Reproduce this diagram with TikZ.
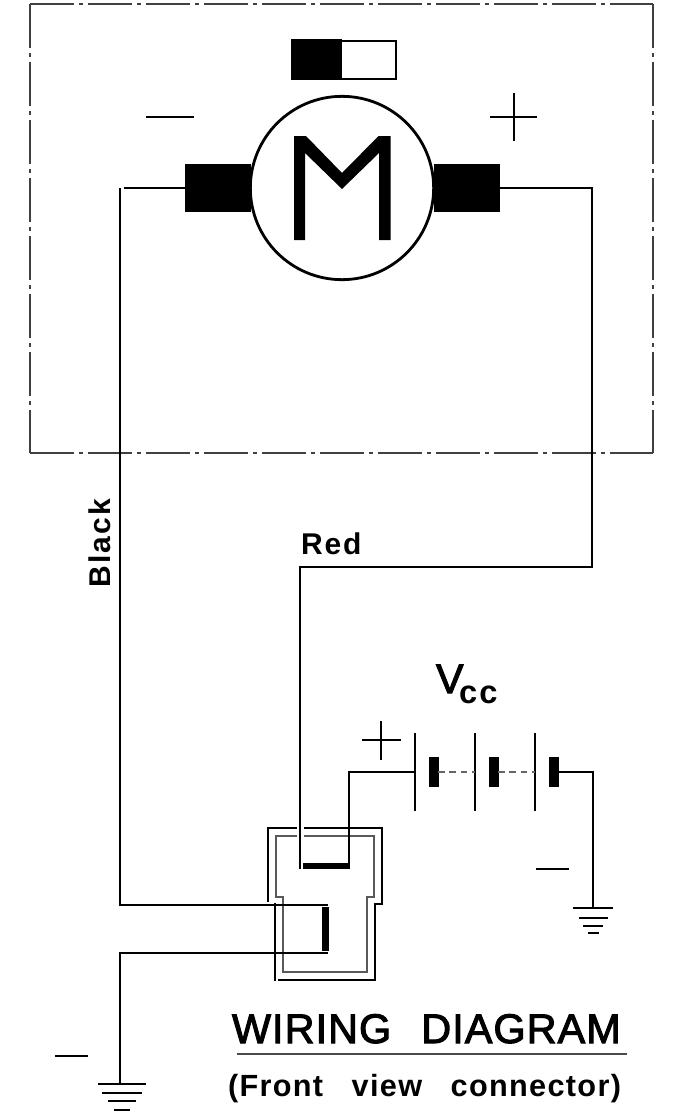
\documentclass[tikz,border=0pt]{standalone}
\usepackage{fontspec}
\setmainfont{Liberation Sans}
\newfontfamily\titlefont[LetterSpace=2.6,WordSpace=2.4,FakeBold=2.5]{Liberation Sans}
\newfontfamily\subfont[LetterSpace=4.3,WordSpace=2.9]{Liberation Sans Bold}
\newfontfamily\labelfont[LetterSpace=6.5]{Liberation Sans Bold}
\tikzset{
  wire/.style={line width=2.2pt,black},
  outer/.style={line width=2.2pt,black,line join=miter},
  inner/.style={line width=1.1pt,black!65},
  solidbox/.style={fill=black,draw=none},
  sign/.style={line width=1.7pt,black},
  frameline/.style={line width=0.9pt,black!75,dash pattern=on 33pt off 4pt on 3pt off 3.5pt},
  txt/.style={inner sep=0pt,outer sep=0pt,anchor=base west,text=black},
}
\begin{document}
\begin{tikzpicture}[x=0.75pt,y=-0.75pt]
\useasboundingbox (0,0) rectangle (674,1113);
% frame
\coordinate (f1) at (30,4); \coordinate (f2) at (653,4);
\coordinate (f3) at (653,453); \coordinate (f4) at (30,453);
\draw[frameline] (f1) -- (f2);
\draw[frameline] (f1) -- (f4);
\draw[frameline] (f2) -- (f3);
\draw[frameline] (f4) -- (f3);
% switch
\node[draw=black,line width=1.6pt,fill=white,minimum width=78pt,minimum height=29pt,inner sep=0pt] (sw) at (344,60) {};
\fill[black] (291,39.5) rectangle (342,80.5);
% motor
\node[draw=black,line width=2.1pt,circle,minimum size=137.5pt,inner sep=0pt,fill=white] (motor) at (342,188) {};
\fill[solidbox] (185,164) rectangle (251,212);
\fill[solidbox] (434,164) rectangle (499.5,212);
\coordinate (lt) at (185,188);
\coordinate (rt) at (497,188);
\fill[black] (294,136) -- (306,136) -- (342,173) -- (378.5,136) -- (390.5,136) -- (390.5,240) -- (379,240) -- (379,153) -- (342,189) -- (305,153) -- (305,240) -- (294,240) -- cycle;
% signs
\coordinate (ma) at (146,117); \coordinate (mb) at (194,117);
\draw[sign] (ma) -- (mb);
\coordinate (pa) at (490,117); \coordinate (pb) at (537,117);
\coordinate (pc) at (514,93); \coordinate (pd) at (514,141);
\draw[sign] (pa) -- (pb); \draw[sign] (pc) -- (pd);
% connector body
\coordinate (o1) at (268,902); \coordinate (o2) at (268,828); \coordinate (o3) at (382,828);
\coordinate (o4) at (382,904); \coordinate (o5) at (375,904); \coordinate (o6) at (375,980); \coordinate (o7) at (278,980);
\draw[outer] (o1) -- (o2) -- (o3) -- (o4) -- (o5) -- (o6) -- (o7);
\coordinate (t1) at (275,903); \coordinate (t2) at (275,981);
\draw[line width=0.9pt,black] (t1) -- (t2);
\coordinate (i1) at (276,897); \coordinate (i2) at (276,836); \coordinate (i3) at (374,836);
\coordinate (i4) at (374,897); \coordinate (i5) at (367,897); \coordinate (i6) at (367,972);
\coordinate (i7) at (283,972); \coordinate (i8) at (283,897);
\draw[inner] (i1) -- (i2) -- (i3) -- (i4) -- (i5) -- (i6) -- (i7) -- (i8) -- cycle;
% gap round the red wire
\fill[white] (297,825) rectangle (303.5,840);
% contacts
\fill[solidbox] (303,863) rectangle (350,869);
\fill[solidbox] (322,907) rectangle (329,951);
\coordinate (c1) at (349,866);
\coordinate (c2a) at (328,905);
\coordinate (c2b) at (328,953);
\coordinate (redend) at (300,869);
% black wire
\coordinate (bk0) at (124,188); \coordinate (bk1) at (120,188); \coordinate (bk2) at (120,905);
\draw[wire] (lt) -- (bk0);
\draw[wire] (bk1) -- (bk2) -- (c2a);
% ground wire lower
\coordinate (g1a) at (120,953); \coordinate (g1b) at (120,1084);
\draw[wire] (c2b) -- (g1a) -- (g1b);
% red wire
\coordinate (r1) at (592,188); \coordinate (r2) at (592,567); \coordinate (r3) at (300,567);
\draw[wire] (rt) -- (r1) -- (r2) -- (r3) -- (redend);
% Vcc feed
\coordinate (v1) at (349,772); \coordinate (b1) at (415,772);
\draw[wire] (c1) -- (v1) -- (b1);
% small plus
\coordinate (sa) at (362,740); \coordinate (sb) at (401,740); \coordinate (sc) at (381,721); \coordinate (sd) at (381,760);
\draw[sign] (sa) -- (sb); \draw[sign] (sc) -- (sd);
% battery
\foreach \x/\n in {415/a,475/b,535/c}{
  \coordinate (l\n t) at (\x,733); \coordinate (l\n b) at (\x,811);
  \draw[wire] (l\n t) -- (l\n b);
  \fill[solidbox] (\x+14,757) rectangle (\x+23.5,787);
}
\coordinate (d1) at (438,772); \coordinate (d2) at (475,772);
\coordinate (d3) at (498,772); \coordinate (d4) at (535,772);
\draw[line width=1.1pt,black!60,dash pattern=on 5pt off 3.5pt] (d1) -- (d2);
\draw[line width=1.1pt,black!60,dash pattern=on 5pt off 3.5pt] (d3) -- (d4);
\coordinate (e1) at (558,772); \coordinate (e2) at (593,772); \coordinate (e3) at (593,908);
\draw[wire] (e1) -- (e2) -- (e3);
% ground right
\foreach \y/\w in {908/20,918/14.5,926/10,933/5.5}{
  \coordinate (gl) at (593-\w,\y); \coordinate (gr) at (593+\w,\y);
  \draw[wire] (gl) -- (gr);
}
\coordinate (m2a) at (536,869); \coordinate (m2b) at (569,869);
\draw[sign] (m2a) -- (m2b);
% ground left
\foreach \y/\w in {1084/24,1093/20,1101/14,1110/8}{
  \coordinate (gl) at (122-\w,\y); \coordinate (gr) at (122+\w,\y);
  \draw[wire] (gl) -- (gr);
}
\coordinate (m3a) at (55,1056); \coordinate (m3b) at (88,1056);
\draw[sign] (m3a) -- (m3b);
% texts
\node[txt,font=\labelfont\fontsize{22.5}{22.5}\selectfont] (red) at (301,554) {Red};
\node[txt,rotate=90,font=\labelfont\fontsize{22.5}{22.5}\selectfont] (black) at (110,587) {Black};
\node[txt,font=\titlefont\fontsize{31}{31}\selectfont] (vv) at (436,693) {V};
\node[txt,font=\labelfont\fontsize{24.5}{24.5}\selectfont] (cc) at (459,703) {cc};
\node[txt,font=\titlefont\fontsize{31}{31}\selectfont] (title) at (232,1043) {WIRING DIAGRAM};
\coordinate (u1) at (237,1054); \coordinate (u2) at (627,1054);
\draw[line width=1.4pt,black!70] (u1) -- (u2);
\node[txt,font=\subfont\fontsize{23}{23}\selectfont] (sub) at (228,1096) {(Front view connector)};
\end{tikzpicture}
\end{document}
